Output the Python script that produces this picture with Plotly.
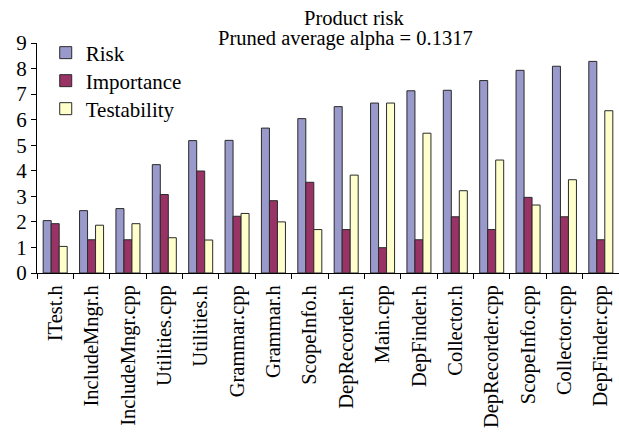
import plotly.graph_objects as go

files = ["ITest.h", "IncludeMngr.h", "IncludeMngr.cpp", "Utilities.cpp", "Utilities.h",
         "Grammar.cpp", "Grammar.h", "ScopeInfo.h", "DepRecorder.h", "Main.cpp",
         "DepFinder.h", "Collector.h", "DepRecorder.cpp", "ScopeInfo.cpp",
         "Collector.cpp", "DepFinder.cpp"]
risk = [2.05, 2.44, 2.52, 4.24, 5.18, 5.19, 5.67, 6.04, 6.51, 6.65, 7.13, 7.15,
        7.53, 7.93, 8.09, 8.28]
importance = [1.93, 1.30, 1.30, 3.07, 3.99, 2.22, 2.83, 3.55, 1.70, 0.99, 1.30, 2.20,
              1.70, 2.96, 2.20, 1.30]
testability = [1.04, 1.87, 1.93, 1.38, 1.29, 2.33, 2.00, 1.70, 3.83, 6.65, 5.47, 3.22,
               4.42, 2.66, 3.65, 6.35]
y_ticks = list(range(0, 10))
title_lines = ["Product risk", "Pruned average alpha = 0.1317"]

FONT = "Liberation Serif, Times New Roman, serif"
edge = dict(color="#2a2a2a", width=1)

series = [("Risk", risk, "#9999cc", "legend"),
          ("Importance", importance, "#993366", "legend2"),
          ("Testability", testability, "#ffffcc", "legend3")]

fig = go.Figure()
for name, vals, color, leg in series:
    fig.add_trace(go.Bar(name=name, x=files, y=vals, legend=leg,
                         marker=dict(color=color, line=edge)))

# heading lines set closely, one annotation each, above the plotting area
title_pos = [(0.5455, 1.110), (0.530, 1.020)]
for line, (tx, ty) in zip(title_lines, title_pos):
    fig.add_annotation(
        text=line, xref="paper", yref="paper", x=tx, y=ty,
        xanchor="center", yanchor="middle", showarrow=False,
        font=dict(family=FONT, size=20.5, color="black"),
    )

# one legend box per series so the rows sit at a tight, even spacing
leg_style = dict(x=0.015, xanchor="left", yanchor="middle",
                 bgcolor="rgba(0,0,0,0)", font=dict(family=FONT, size=21))
fig.update_layout(
    width=619, height=434,
    margin=dict(l=37, r=0, t=43, b=161),
    paper_bgcolor="white", plot_bgcolor="white",
    barmode="group", bargap=0.34, bargroupgap=0,
    font=dict(family=FONT, color="black", size=21),
    legend=dict(y=0.9565, **leg_style),
    legend2=dict(y=0.8348, **leg_style),
    legend3=dict(y=0.713, **leg_style),
    showlegend=True,
)
fig.update_xaxes(
    type="category", tickangle=-90, tickson="boundaries",
    ticks="outside", ticklen=5, tickcolor="black",
    showline=True, linecolor="black", linewidth=1,
    showgrid=False, tickfont=dict(family=FONT, size=20.5), ticklabelstandoff=3,
)
fig.update_yaxes(
    range=[0, 9], tickvals=y_ticks, ticks="outside", ticklen=5, tickcolor="black",
    showline=True, linecolor="black", linewidth=1,
    showgrid=False, zeroline=False, tickfont=dict(family=FONT, size=21),
)

fig.write_html("out.html")
